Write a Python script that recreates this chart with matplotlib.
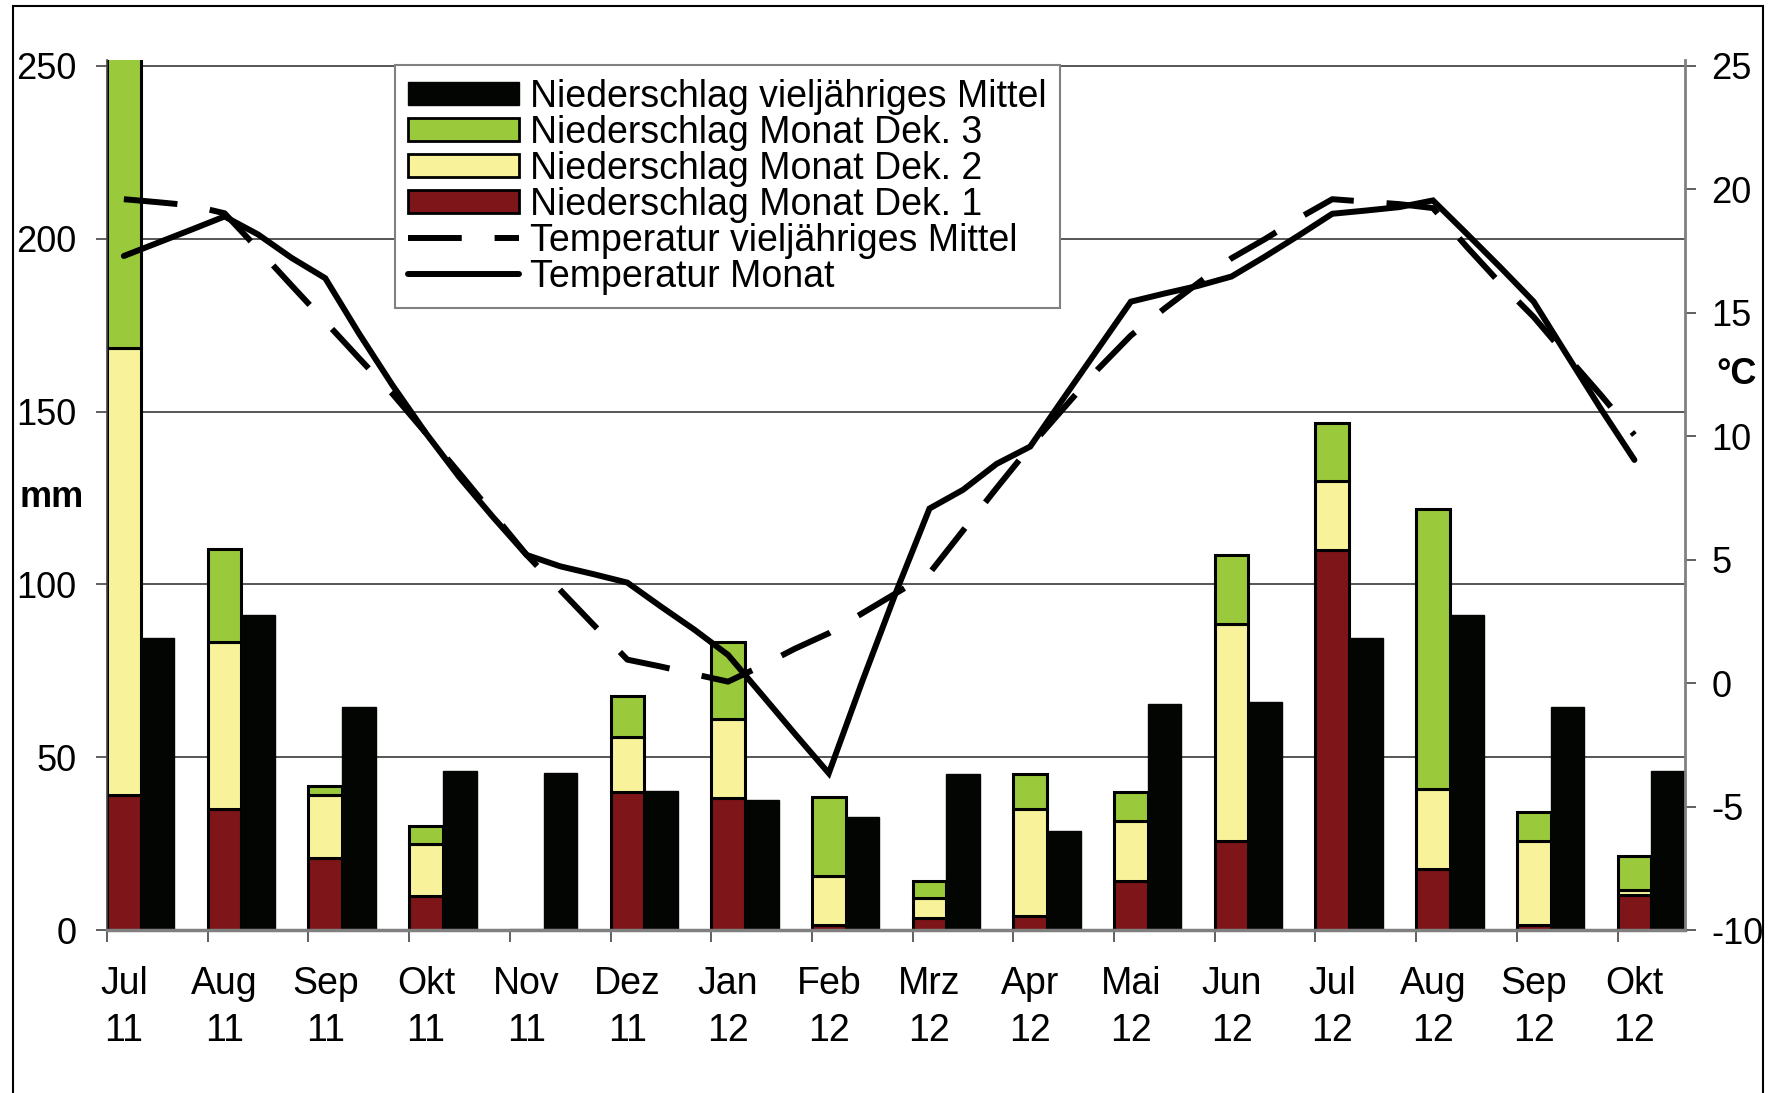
#!/usr/bin/env python3
"""Niederschlag und Temperatur, Jul 2011 bis Okt 2012."""

import matplotlib

matplotlib.use("Agg")
import matplotlib.lines
import matplotlib.patches
import matplotlib.pyplot as plt
import numpy as np

# Color palette
black = "#030503"
green = "#9ACA3C"
yellow = "#F8F39B"
dark_red = "#7E1518"
gray = "#808080"

months = ["Jul\n11", "Aug\n11", "Sep\n11", "Okt\n11", "Nov\n11", "Dez\n11",
          "Jan\n12", "Feb\n12", "Mrz\n12", "Apr\n12", "Mai\n12", "Jun\n12",
          "Jul\n12", "Aug\n12", "Sep\n12", "Okt\n12"]

# Niederschlag je Dekade [mm]
precip_dek1 = [39.1, 34.9, 20.9, 9.9, 0.0, 39.8, 38.3, 1.4, 3.4, 4.1, 14.3, 25.8, 110.0, 17.6, 1.4, 10.1]
precip_dek2 = [129.3, 48.5, 18.2, 15.0, 0.0, 16.0, 22.7, 14.2, 5.8, 30.8, 17.3, 62.6, 19.9, 23.1, 24.4, 1.5]
precip_dek3 = [92.0, 26.8, 2.7, 5.2, 0.0, 11.9, 22.4, 22.8, 5.1, 10.2, 8.4, 20.0, 16.9, 81.1, 8.4, 9.9]
# Niederschlag vieljaehriges Mittel [mm]
precip_mean = [84.4, 91.1, 64.4, 46.1, 45.3, 40.2, 37.6, 32.8, 45.1, 28.6, 65.4, 66.1, 84.4, 91.1, 64.4, 46.1]

# Temperatur, drei Werte je Monat (Dekaden), Jul 11 bis Okt 12 [degC]
temp_month = [17.30, 17.83, 18.36, 18.90, 18.17, 17.22, 16.40, 14.17, 12.07, 10.12,
              8.33, 6.72, 5.19, 4.73, 4.41, 4.07, 3.10, 2.16, 1.14, -0.46,
              -2.07, -3.65, 0.08, 3.67, 7.07, 7.83, 8.88, 9.58, 11.55, 13.50,
              15.45, 15.78, 16.09, 16.47, 17.28, 18.13, 19.01, 19.14, 19.28, 19.55,
              18.21, 16.85, 15.45, 13.27, 11.11, 9.04]
temp_mean = [19.60, 19.48, 19.35, 19.03, 17.58, 16.10, 14.64, 13.17, 11.72, 10.12,
             8.50, 6.85, 5.19, 3.77, 2.35, 0.95, 0.67, 0.36, 0.06, 0.70,
             1.40, 2.02, 2.83, 3.64, 4.45, 6.18, 7.90, 9.58, 11.14, 12.69,
             14.08, 15.17, 16.20, 17.21, 17.99, 18.83, 19.60, 19.50, 19.40, 19.24,
             17.68, 16.20, 14.83, 13.23, 11.67, 10.05]

legend_labels = [
    "Niederschlag vieljähriges Mittel",
    "Niederschlag Monat Dek. 3",
    "Niederschlag Monat Dek. 2",
    "Niederschlag Monat Dek. 1",
    "Temperatur vieljähriges Mittel",
    "Temperatur Monat",
]


def setGlobalDefaults():
    matplotlib.rcParams["font.family"] = ["Liberation Sans", "DejaVu Sans"]
    matplotlib.rcParams["font.size"] = 26
    matplotlib.rcParams["axes.unicode_minus"] = False
    matplotlib.rcParams["figure.dpi"] = 100


def plot_climate():
    W, H = 1772, 1093
    fig = plt.figure(figsize=(W / 100, H / 100), dpi=100)
    # plot area in pixels: x 107..1685, y 60..930
    ax = fig.add_axes([107 / W, (H - 930) / H, 1578 / W, 870 / H])

    x = np.arange(len(months))
    w = 0.335
    d1 = np.array(precip_dek1)
    d2 = np.array(precip_dek2)
    d3 = np.array(precip_dek3)

    bar_kw = dict(edgecolor="black", linewidth=2.2, zorder=2)
    ax.bar(x, d1, w, color=dark_red, **bar_kw)
    ax.bar(x, d2, w, bottom=d1, color=yellow, **bar_kw)
    ax.bar(x, d3, w, bottom=d1 + d2, color=green, **bar_kw)
    ax.bar(x + w, precip_mean, w, color=black, edgecolor=black, linewidth=1, zorder=2)

    ax.set_xlim(-w / 2, len(months) - 1 + 1.5 * w)
    ax.set_ylim(0, 251.7)
    ax.set_yticks(range(0, 251, 50))
    ax.yaxis.grid(True, color="#3a3a3a", linewidth=1.2)
    ax.set_axisbelow(True)

    # category boundaries as ticks, labels centred below the month bars
    ax.set_xticks(x - w / 2, labels=[""] * len(months))
    ax.set_xticks(x, labels=months, minor=True)
    ax.tick_params(axis="x", which="major", length=8.5, width=1.2, color="#444444")
    ax.tick_params(axis="x", which="minor", length=0, pad=26, labelsize=27)
    for lbl in ax.get_xticklabels(minor=True):
        lbl.set_linespacing(1.4)
    ax.tick_params(axis="y", length=8, width=1.2, pad=14, color="#444444")

    ax.spines["top"].set_visible(False)
    ax.spines["bottom"].set_color(gray)
    ax.spines["bottom"].set_linewidth(2.5)
    ax.spines["left"].set_color("#444444")
    ax.spines["left"].set_linewidth(1.2)

    ax2 = ax.twinx()
    dek_x = np.arange(len(temp_month)) / 3
    ax2.plot(dek_x, temp_mean, color="black", linewidth=4.3,
             linestyle=(0, (9, 5.5)), dash_capstyle="butt", zorder=3)
    ax2.plot(dek_x, temp_month, color="black", linewidth=4.3,
             solid_joinstyle="miter", solid_capstyle="round", zorder=4)
    ax2.set_ylim(-10, -10 + 35 * 251.7 / 250)
    ax2.set_yticks(range(-10, 26, 5))
    ax2.tick_params(axis="y", length=8, width=1.2, pad=11, color="#444444")
    ax2.spines["top"].set_visible(False)
    ax2.spines["right"].set_color(gray)
    ax2.spines["right"].set_linewidth(2)
    ax2.spines["left"].set_visible(False)
    ax2.spines["bottom"].set_visible(False)

    # Custom legend
    handles = [
        matplotlib.patches.Patch(facecolor=black, edgecolor=black),
        matplotlib.patches.Patch(facecolor=green, edgecolor="black", linewidth=2),
        matplotlib.patches.Patch(facecolor=yellow, edgecolor="black", linewidth=2),
        matplotlib.patches.Patch(facecolor=dark_red, edgecolor="black", linewidth=2),
        matplotlib.lines.Line2D([], [], color="black", linewidth=4.3,
                                linestyle=(0, (9, 5.5)), dash_capstyle="butt"),
        matplotlib.lines.Line2D([], [], color="black", linewidth=4.3,
                                solid_capstyle="round"),
    ]
    leg = ax2.legend(
        handles, legend_labels,
        loc="upper left", bbox_to_anchor=(0.1825, 0.9937),
        borderaxespad=0, frameon=True, fancybox=False, framealpha=1,
        edgecolor=gray, handlelength=2.95, handleheight=0.55,
        handletextpad=0.3, labelspacing=0.0, borderpad=0.35, fontsize=27,
    )
    leg.get_frame().set_linewidth(1.5)

    fig.text(52 / W, 1 - 498 / H, "mm", ha="center", va="center", weight="bold")
    fig.text(1737 / W, 1 - 375 / H, "°C", ha="center", va="center", weight="bold")

    # outer chart border
    fig.patches.append(matplotlib.patches.Rectangle(
        (13 / W, -0.02), 1750 / W, (H - 6) / H + 0.02,
        transform=fig.transFigure, fill=False, edgecolor="black", linewidth=1.5))

    fig.savefig("out.png", dpi=100)
    plt.close(fig)


if __name__ == "__main__":
    setGlobalDefaults()
    plot_climate()
